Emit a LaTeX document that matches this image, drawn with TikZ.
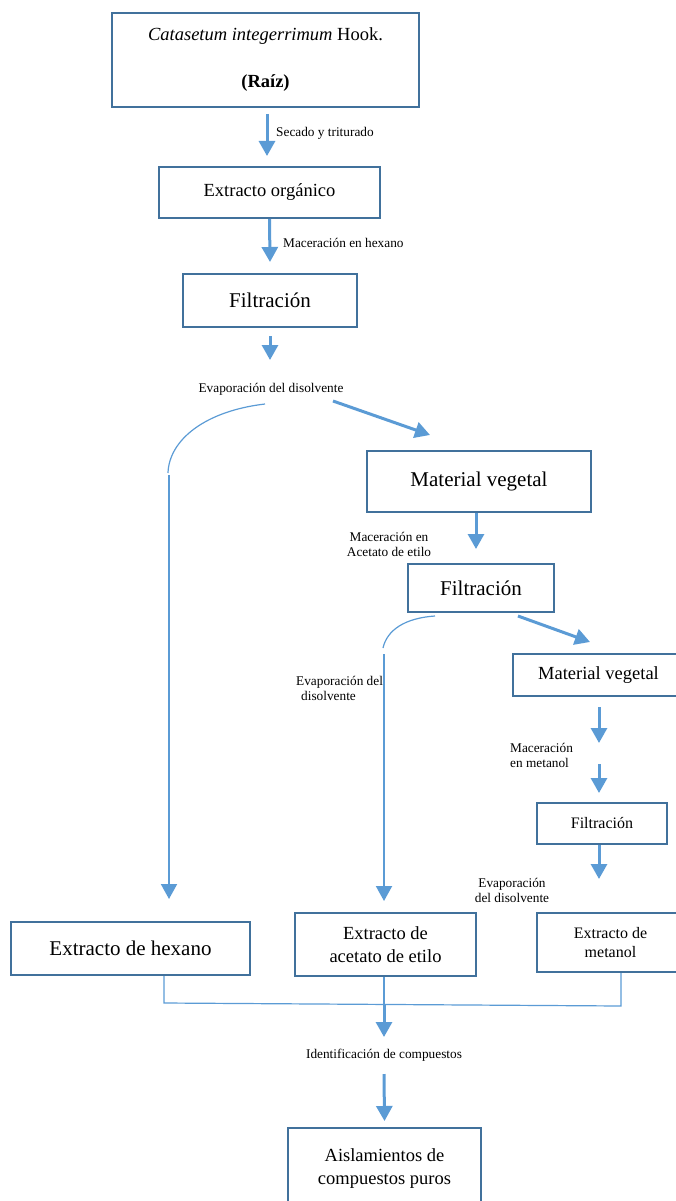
\documentclass[tikz,border=0pt]{standalone}
\usepackage{fontspec}
\setmainfont{Liberation Serif}
\usetikzlibrary{arrows.meta}
\definecolor{boxblue}{HTML}{41719C}
\definecolor{flowblue}{HTML}{5B9BD5}
\newcommand{\sizebig}{\fontsize{21}{24}\selectfont}
\newcommand{\sizemid}{\fontsize{18.5}{23}\selectfont}
\newcommand{\sizesmall}{\fontsize{16}{19}\selectfont}
\newcommand{\sizelab}{\fontsize{13.3}{15}\selectfont}
\tikzset{
  box/.style={rectangle, draw=boxblue, line width=2pt, inner sep=0pt, align=center},
  flow/.style={-{Triangle[length=15pt,width=16pt]}, line width=3pt, draw=flowblue},
  longflow/.style={flow, line width=2pt},
  thinline/.style={line width=1.2pt, draw=flowblue},
  lbl/.style={font=\sizelab, inner sep=0pt}
}
\begin{document}
\begin{tikzpicture}[x=1pt,y=-1pt]
\useasboundingbox (0,0) rectangle (675,1201);
% boxes
\node[box, minimum width=307pt, minimum height=94pt, font=\sizemid] (cata) at (265.5,60) {\textit{Catasetum integerrimum} Hook.\\[24pt]\textbf{(Raíz)}};
\node[box, minimum width=221pt, minimum height=51pt, font=\sizemid] (org) at (269.5,192.5) {Extracto orgánico};
\node[box, minimum width=174pt, minimum height=53pt, font=\sizebig] (filt1) at (270,300.5) {Filtración};
\node[box, minimum width=224pt, minimum height=61pt, font=\sizebig] (matv1) at (479,481.5) {Material vegetal};
\node[box, minimum width=146pt, minimum height=48pt, font=\sizebig] (filt2) at (481,588) {Filtración};
\node[box, minimum width=171pt, minimum height=42pt, font=\sizemid] (matv2) at (598.5,675) {Material vegetal};
\node[box, minimum width=130pt, minimum height=41pt, font=\sizesmall] (filt3) at (602,823.5) {Filtración};
\node[box, minimum width=239pt, minimum height=53pt, font=\sizebig] (hex) at (130.5,948.5) {Extracto de hexano};
\node[box, minimum width=181pt, minimum height=63pt, font=\sizemid] (acet) at (385.5,944.5) {Extracto de\\acetato de etilo};
\node[box, minimum width=147pt, minimum height=59pt, font=\sizesmall] (meth) at (610.5,942.5) {Extracto de\\metanol};
\node[box, minimum width=193pt, minimum height=82pt, font=\sizemid] (aisl) at (384.5,1169) {Aislamientos de\\compuestos puros};
% labels
\node[lbl, anchor=west] (secado) at (276,133) {Secado y triturado};
\node[lbl, anchor=west] (machex) at (283,243) {Maceración en hexano};
\node[lbl] (evap1) at (271,389) {Evaporación del disolvente};
\node[lbl, align=center] (macacet) at (389,544) {Maceración en\\Acetato de etilo};
\node[lbl, align=left, anchor=west] (evap2) at (296,688.5) {Evaporación del\\\hspace*{5pt}disolvente};
\node[lbl, align=left, anchor=west] (macmet) at (510,755.5) {Maceración\\en metanol};
\node[lbl, align=center] (evap3) at (512,890) {Evaporación\\del disolvente};
\node[lbl] (ident) at (384,1055) {Identificación de compuestos};
% free ends
\coordinate (f1end) at (270,360);
\coordinate (v1start) at (333,401);
\coordinate (v1end) at (430,435);
\coordinate (hexarc) at (169,475);
\coordinate (acetarc) at (384,654);
\coordinate (m1end) at (599,743);
\coordinate (m2start) at (599,764);
\coordinate (f3end) at (599,879);
\coordinate (hexl) at (164,1003);
\coordinate (join) at (384,1005);
\coordinate (methl) at (621,1006);
\coordinate (identin) at (384,1037);
\coordinate (identout) at (384,1074);
% arrows
\draw[flow] ([xshift=1.5pt,yshift=-6pt]cata.south) -- ([xshift=-2.5pt,yshift=10pt]org.north);
\draw[flow] (org.south) -- ([yshift=11pt]filt1.north);
\draw[flow] ([yshift=-8pt]filt1.south) -- (f1end);
\draw[flow] (v1start) -- (v1end);
\draw[thinline] (265,404) .. controls (205,411) and (169,440) .. (168,473);
\draw[longflow, shorten >=22pt] (hexarc) -- (hexarc |- hex.north);
\draw[flow] ([xshift=-3pt]matv1.south) -- ([xshift=-5pt,yshift=14pt]filt2.north);
\draw[flow] ([xshift=37pt,yshift=-3pt]filt2.south) -- ([xshift=-8.5pt,yshift=11pt]matv2.north);
\draw[thinline] (435,616) .. controls (405,618) and (387,630) .. (383,648);
\draw[longflow, shorten >=11pt] (acetarc) -- (acetarc |- acet.north);
\draw[flow] ([xshift=.5pt,yshift=-10pt]matv2.south) -- (m1end);
\draw[flow] (m2start) -- ([xshift=-3pt,yshift=9pt]filt3.north);
\draw[flow] ([xshift=-3pt]filt3.south) -- (f3end);
% joining lines
\draw[thinline] (hexl |- hex.south) -- (hexl) -- (methl) -- (methl |- meth.south);
\draw[thinline] (join |- acet.south) -- (join);
\draw[flow] (join) -- (identin);
\draw[flow] (identout) -- ([yshift=6pt]aisl.north);
\end{tikzpicture}
\end{document}
